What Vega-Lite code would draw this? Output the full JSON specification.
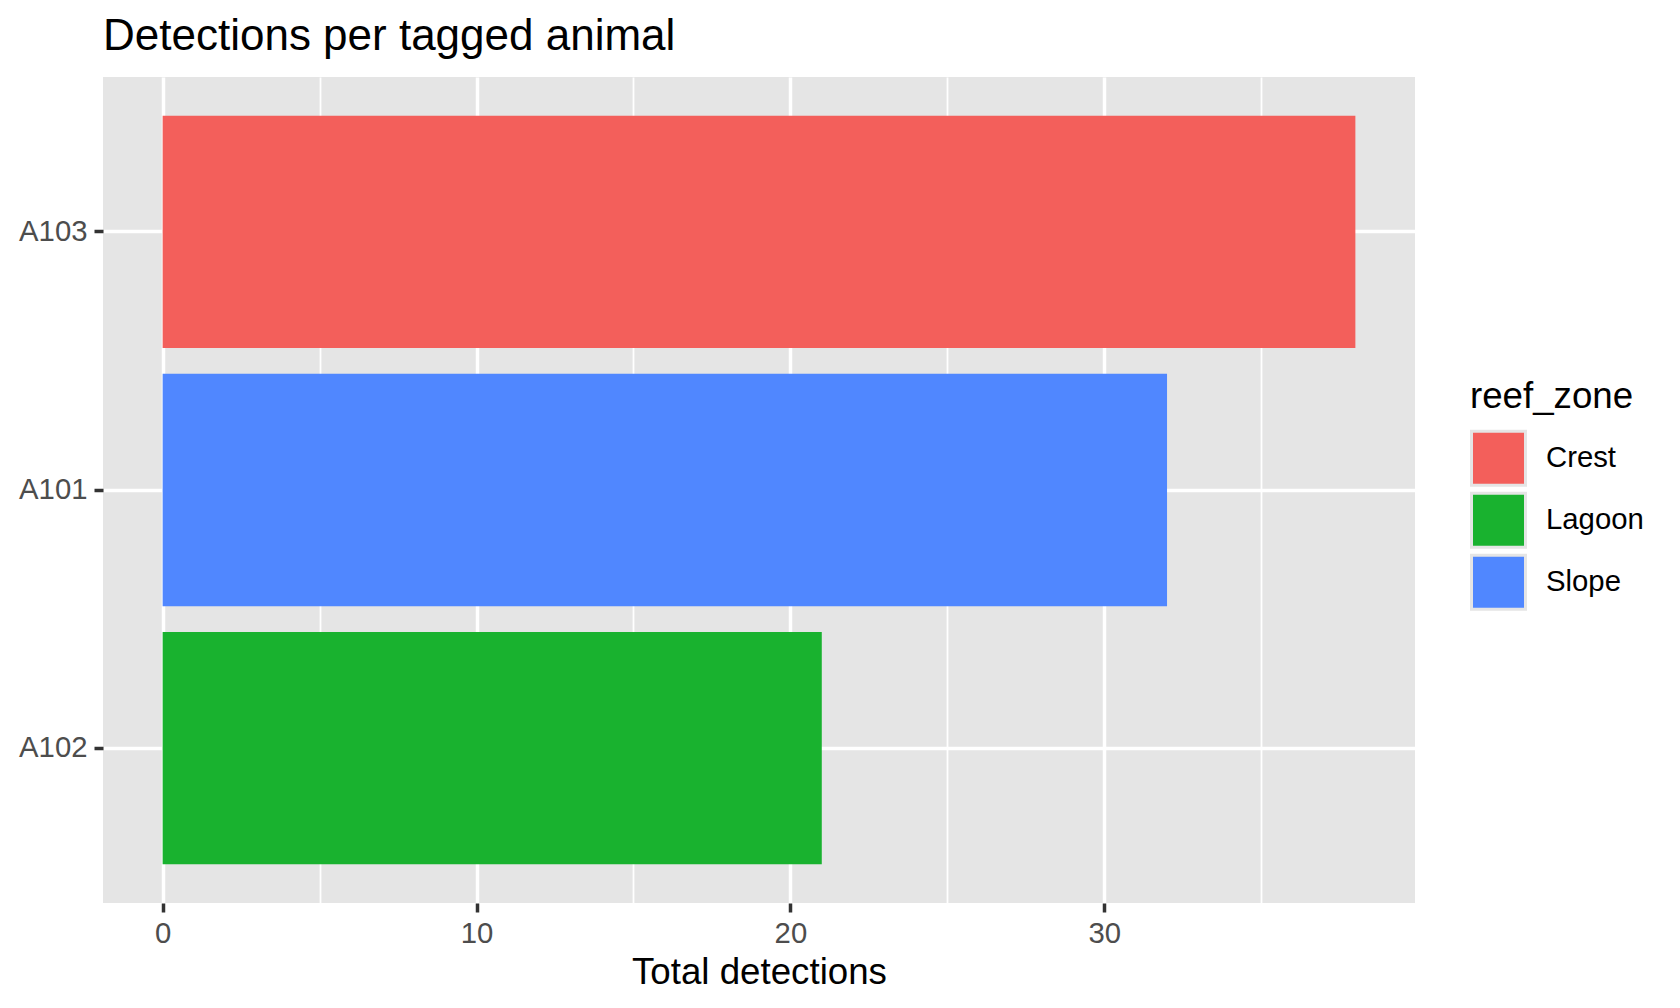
{
  "$schema": "https://vega.github.io/schema/vega-lite/v6.json",
  "width": 1312,
  "height": 826,
  "autosize": "none",
  "padding": {"left": 103, "top": 77, "right": 265, "bottom": 105},
  "background": "white",
  "title": {
    "text": "Detections per tagged animal",
    "anchor": "start",
    "frame": "group",
    "font": "Liberation Sans",
    "fontSize": 44,
    "fontWeight": "normal",
    "color": "black",
    "offset": 18
  },
  "data": {
    "values": [
      {"animal_id": "A103", "reef_zone": "Crest", "detections": 38},
      {"animal_id": "A101", "reef_zone": "Slope", "detections": 32},
      {"animal_id": "A102", "reef_zone": "Lagoon", "detections": 21}
    ]
  },
  "mark": {"type": "bar"},
  "encoding": {
    "y": {
      "field": "animal_id",
      "type": "nominal",
      "sort": "-x",
      "scale": {"paddingInner": 0.1, "paddingOuter": 0.15},
      "axis": {
        "title": null,
        "grid": true,
        "bandPosition": 0.5,
        "gridColor": "white",
        "gridWidth": 3.5,
        "domain": false,
        "tickSize": 9,
        "tickWidth": 3.5,
        "tickColor": "#333333",
        "labelPadding": 7,
        "labelFont": "Liberation Sans",
        "labelFontSize": 29.3,
        "labelColor": "#4D4D4D"
      }
    },
    "x": {
      "field": "detections",
      "type": "quantitative",
      "scale": {"domain": [-1.9, 39.9], "nice": false, "zero": false},
      "axis": {
        "title": "Total detections",
        "values": [0, 5, 10, 15, 20, 25, 30, 35],
        "labelExpr": "datum.value % 10 === 0 ? datum.label : ''",
        "grid": true,
        "gridColor": "white",
        "gridWidth": {"condition": {"test": "datum.value % 10 === 0", "value": 3.5}, "value": 1.8},
        "domain": false,
        "tickSize": 9,
        "tickWidth": 3.5,
        "tickColor": "#333333",
        "tickOpacity": {"condition": {"test": "datum.value % 10 === 0", "value": 1}, "value": 0},
        "labelPadding": 7,
        "labelFont": "Liberation Sans",
        "labelFontSize": 29.3,
        "labelColor": "#4D4D4D",
        "titleFont": "Liberation Sans",
        "titleFontSize": 36.7,
        "titleFontWeight": "normal",
        "titleColor": "black",
        "titlePadding": 6
      }
    },
    "color": {
      "field": "reef_zone",
      "type": "nominal",
      "scale": {
        "domain": ["Crest", "Lagoon", "Slope"],
        "range": ["#F35F5B", "#19B22F", "#5087FF"]
      },
      "legend": {
        "orient": "none",
        "legendX": 1367,
        "legendY": 302,
        "title": "reef_zone",
        "titleFont": "Liberation Sans",
        "titleFontSize": 36.7,
        "titleFontWeight": "normal",
        "titleColor": "black",
        "titlePadding": 14,
        "labelFont": "Liberation Sans",
        "labelFontSize": 29.3,
        "labelColor": "black",
        "labelOffset": 19,
        "symbolType": "square",
        "symbolSize": 2916,
        "symbolStrokeColor": "#E5E5E5",
        "symbolStrokeWidth": 3,
        "symbolOpacity": 1,
        "rowPadding": -20,
        "padding": 0
      }
    }
  },
  "config": {
    "view": {"fill": "#E5E5E5", "stroke": null}
  }
}
